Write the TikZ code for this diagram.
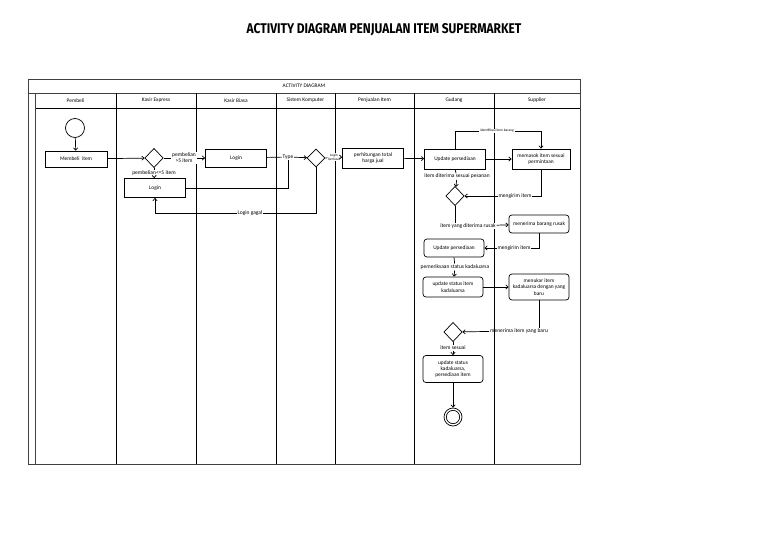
\documentclass[tikz,border=0pt]{standalone}
\usepackage{fontspec}
\setmainfont{Carlito}
\newfontfamily\judulfont{Fira Sans}
\usetikzlibrary{positioning,arrows.meta,shapes.geometric}

\tikzset{
	aksi/.style={draw, line width=0.6pt, align=center, minimum width=1.83cm,
		minimum height=0.54cm, inner sep=1pt, font=\fontsize{4.6}{5.4}\selectfont},
	aksibulat/.style={aksi, rounded corners=2.5pt},
	keputusan/.style={draw, diamond, line width=0.6pt, minimum width=0.55cm,
		minimum height=0.58cm, inner sep=0pt},
	ket/.style={fill=white, inner sep=0.6pt, align=center,
		font=\fontsize{4.7}{5}\selectfont},
	panah/.style={line width=0.6pt, -{Straight Barb[length=2pt,width=3.5pt]}},
	garis/.style={line width=0.6pt},
	jalur/.style={line width=0.8pt},
	namajalur/.style={font=\fontsize{4.6}{5}\selectfont}
}

\begin{document}
\begin{tikzpicture}[x=0.03cm, y=-0.03cm]
	\useasboundingbox (0,0) rectangle (768,538);
	
	% judul
	\node[inner sep=0] (judul) at (384,30)
	{\judulfont\bfseries\scalebox{0.85}[1]{\fontsize{12}{14}\selectfont ACTIVITY DIAGRAM PENJUALAN ITEM SUPERMARKET}};
	
	% bingkai dan jalur
	\draw[jalur, black!75] (28,79) rectangle (580,464);
	\draw[jalur, black!75] (28,93) -- (580,93);
	\draw[jalur] (35,108) -- (580,108);
	\draw[jalur, black!75] (35,93) -- (35,464);
	\foreach \x in {116,196,276,335,414,494}
	\draw[jalur] (\x,93) -- (\x,464);
	
	\node[namajalur] (diagram) at (304,86) {ACTIVITY DIAGRAM};
	\node[namajalur] (pembeli) at (75.5,100.5) {Pembeli};
	\node[namajalur] (kasirE) at (156,100.5) {Kasir Express};
	\node[namajalur] (kasirB) at (236,100.5) {Kasir Biasa};
	\node[namajalur] (sistem) at (305.5,100.5) {Sistem Komputer};
	\node[namajalur] (jual) at (374.5,100.5) {Penjualan Item};
	\node[namajalur] (gudang) at (454,100.5) {Gudang};
	\node[namajalur] (supplier) at (537,100.5) {Supplier};
	
	% node aktivitas
	\node[draw, circle, line width=0.6pt, minimum size=0.57cm, inner sep=0] (mulai) at (75,128) {};
	\node[aksi, minimum width=1.86cm, minimum height=0.48cm] (beli) at (76,159) {Membeli\ \ item};
	\node[keputusan] (cekE) at (154,158) {};
	\node[aksi] (loginB) at (236,158) {Login};
	\node[aksi, minimum height=0.57cm] (loginE) at (155,188) {Login};
	\node[keputusan, minimum width=0.54cm, minimum height=0.54cm] (cekK) at (316,158) {};
	\node[aksi, minimum height=0.6cm] (hitung) at (373,158) {perhitungan total\\harga jual};
	\node[aksi, minimum height=0.6cm] (upd1) at (455,159) {Update persediaan};
	\node[aksi, minimum width=1.74cm, minimum height=0.6cm] (pasok) at (541,159) {memasok item sesuai\\permintaan};
	\node[keputusan] (cekG1) at (455,196) {};
	\node[aksibulat, minimum width=1.8cm] (rusak) at (539,224) {menerima barang rusak};
	\node[aksibulat, minimum width=1.8cm] (upd2) at (454,248) {Update persediaan};
	\node[aksibulat, minimum width=1.8cm, minimum height=0.6cm] (updK) at (453,287) {update status item\\kadaluarsa};
	\node[aksibulat, minimum width=1.8cm, minimum height=0.78cm] (tukar) at (539,287) {menukar item\\kadaluarsa dengan yang\\baru};
	\node[keputusan] (cekG2) at (453,332) {};
	\node[aksibulat, minimum width=1.8cm, minimum height=0.81cm] (updAkhir) at (453,369) {update status\\kadaluarsa,\\persediaan item};
	\node[draw, circle, line width=0.6pt, minimum size=0.54cm, inner sep=0] (selesai) at (453,417) {};
	\node[draw, circle, line width=0.6pt, minimum size=0.4cm, inner sep=0] (selesaiDalam) at (selesai) {};
	
	% label
	\node[ket] (lblLebih) at (184,158) {pembelian\\>5 item};
	\node[ket] (lblKurang) at (154,173.5) {pembelian<=5 item};
	\node[ket] (tipe) at (288,157) {Type};
	\node[ket, font=\fontsize{3}{3.4}\selectfont] (lblBerhasil) at (334,157) {Login\\berhasil};
	\node[ket] (lblGagal) at (250,213) {Login gagal};
	\node[ket, font=\fontsize{3}{3.4}\selectfont] (lblIdent) at (497,131) {identifikasi item barang};
	\node[ket] (lblSesuai) at (457,176.5) {item diterima sesuai pesanan};
	\node[ket] (lblKirim1) at (515,196) {mengirim item};
	\node[ket] (lblRusak) at (468,226) {item yang diterima rusak};
	\node[ket] (lblKirim2) at (514,248) {mengirim item};
	\node[ket] (lblPeriksa) at (455,267) {pemeriksaan status kadaluarsa};
	\node[ket, fill=none] (lblBaru) at (519,331) {menerima item yang baru};
	\node[ket] (lblItemSesuai) at (453,348) {item sesuai};
	
	% alur
	\draw[panah] (mulai) -- (beli);
	\draw[panah] (beli) -- (cekE);
	\draw[garis] (cekE.east) -- (lblLebih);
	\draw[panah] (lblLebih) -- (loginB);
	\draw[garis] (cekE.south) -- (lblKurang);
	\draw[panah] (lblKurang) -- (loginE);
	\draw[garis] (loginB) -- (tipe);
	\draw[garis] (loginE.east) -| (tipe.south);
	\draw[panah] (tipe) -- (cekK);
	\draw[garis] (cekK.south) |- (lblGagal);
	\draw[panah] (lblGagal) -| (loginE.south);
	\draw[garis] (cekK.east) -- (lblBerhasil);
	\draw[panah] (lblBerhasil) -- (hitung);
	\draw[panah] (hitung) -- (upd1);
	\draw[panah] (upd1) -- (pasok);
	\draw[garis] (upd1.north) |- (lblIdent);
	\draw[panah] (lblIdent) -| (pasok.north);
	\draw[garis] (upd1.south) -- (lblSesuai);
	\draw[panah] (lblSesuai) -- (cekG1);
	\draw[garis] (pasok.south) |- (lblKirim1);
	\draw[panah] (lblKirim1) -- (cekG1);
	\draw[garis] (cekG1.south) -- (cekG1.south |- lblRusak.north);
	\draw[panah] (lblRusak) -- (rusak);
	\draw[garis] (rusak.south) |- (lblKirim2);
	\draw[panah] (lblKirim2) -- (upd2);
	\draw[garis] (upd2.south) -- (lblPeriksa);
	\draw[panah] (lblPeriksa) -- (updK);
	\draw[panah] (updK) -- (tukar);
	\draw[garis] (tukar.south) -- (tukar.south |- lblBaru.north);
	\draw[panah] (lblBaru) -- (cekG2);
	\draw[garis] (cekG2.south) -- (lblItemSesuai);
	\draw[panah] (lblItemSesuai) -- (updAkhir);
	\draw[panah] (updAkhir) -- (selesai);
	
\end{tikzpicture}
\end{document}
